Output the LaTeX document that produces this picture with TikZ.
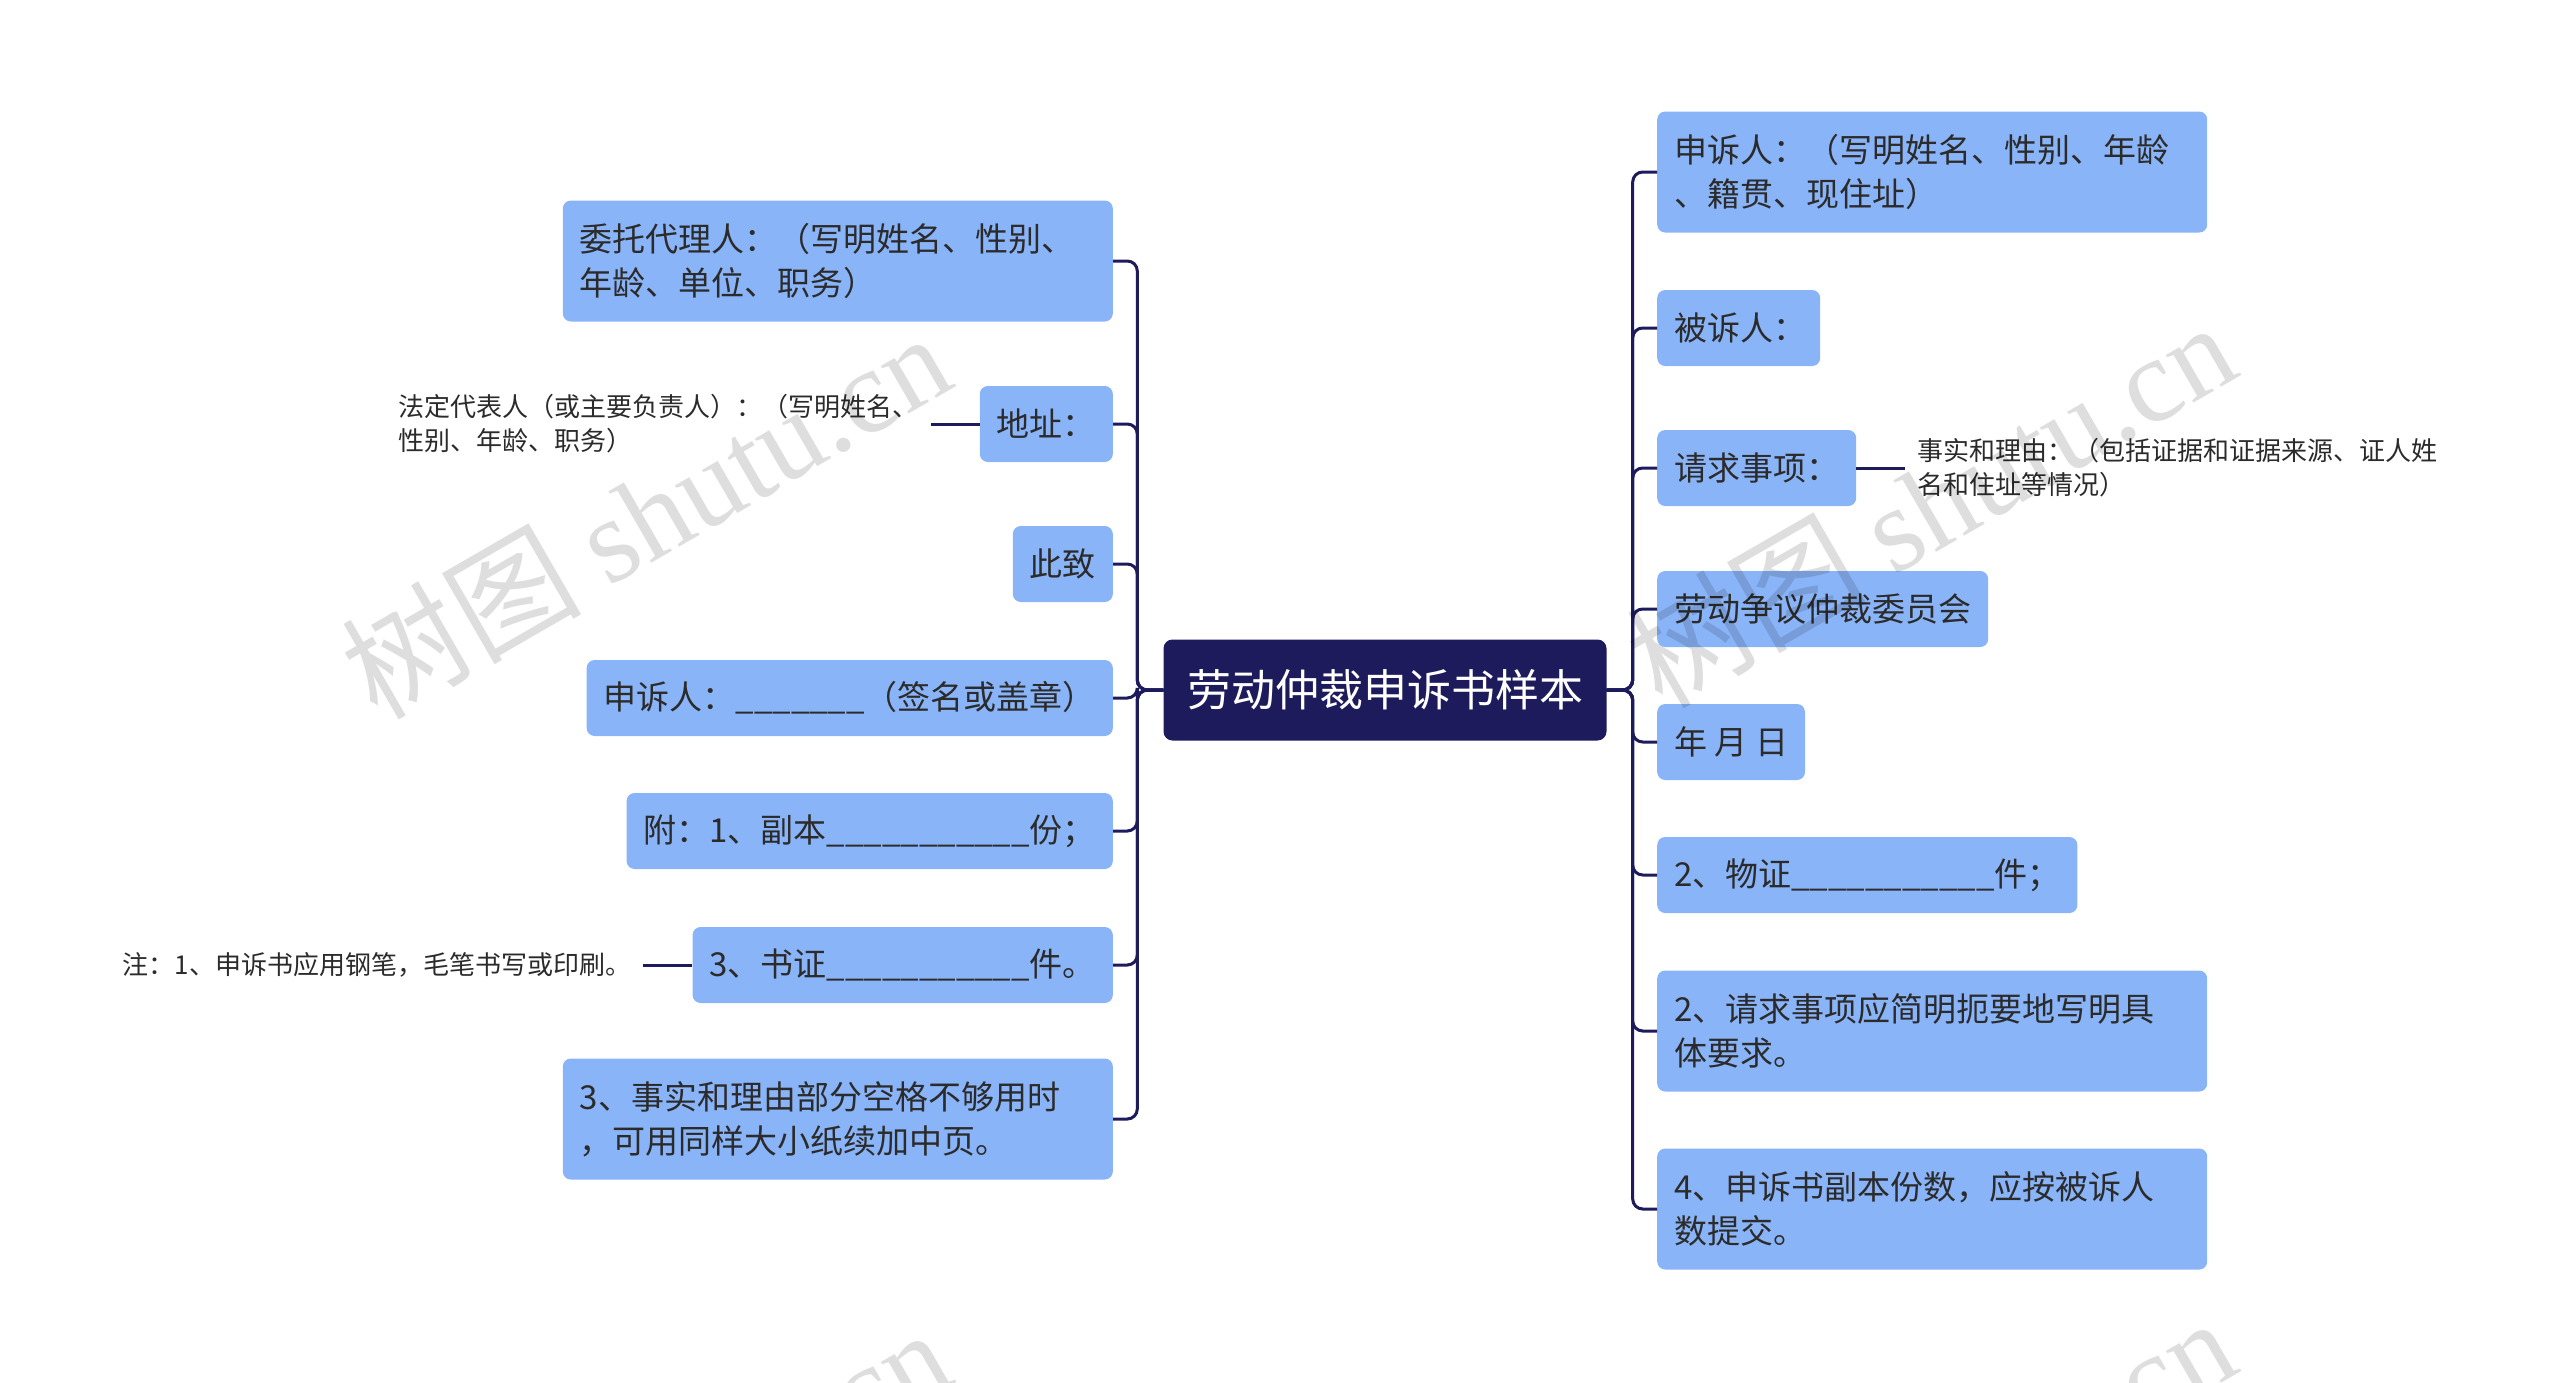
\documentclass[tikz,border=0pt]{standalone}
\usepackage{fontspec}
\setmainfont{Noto Sans CJK SC}
\newfontfamily\wmfont{Liberation Serif}
\usetikzlibrary{positioning}
\definecolor{navy}{HTML}{1D1B5C}
\definecolor{leaf}{HTML}{8AB4F8}
\definecolor{ink}{HTML}{2B2B2B}

\begin{document}
\begin{tikzpicture}[x=1pt, y=-1pt,
  root/.style={rectangle, fill=navy, text=white, rounded corners=9pt,
               font=\fontsize{44}{52}\selectfont, inner sep=0pt,
               minimum width=443pt, minimum height=101pt},
  topic/.style={rectangle, fill=leaf, text=ink, rounded corners=8pt,
                inner xsep=17pt, inner ysep=0pt, align=left,
                font=\fontsize{33}{44}\selectfont, minimum height=76pt},
  wide/.style={topic, text width=516pt, minimum height=121pt},
  note/.style={text=ink, font=\fontsize{26}{34}\selectfont, align=left,
               inner xsep=12pt, inner ysep=0pt},
  line/.style={draw=navy, line width=3pt, rounded corners=10pt},
  stamp/.style={rotate=30, text=black, opacity=0.13,
                font=\fontsize{120}{120}\selectfont},
  node distance=49pt
]
\useasboundingbox (0,0) rectangle (2560,1382);
% Nodes
\node[root] (c) at (1385,690) {劳动仲裁申诉书样本};
% left side
\node[wide, anchor=east] (l1) at (1113,261) {委托代理人：（写明姓名、性别、\\年龄、单位、职务）};
\node[topic, anchor=east] (l2) at (1113,424) {地址：};
\node[topic, anchor=east] (l3) at (1113,564) {此致};
\node[topic, anchor=east] (l4) at (1113,698) {申诉人：\_\_\_\_\_\_\_（签名或盖章）};
\node[topic, anchor=east] (l5) at (1113,831) {附：1、副本\_\_\_\_\_\_\_\_\_\_\_份；};
\node[topic, anchor=east] (l6) at (1113,965) {3、书证\_\_\_\_\_\_\_\_\_\_\_件。};
\node[wide, anchor=east] (l7) at (1113,1119) {3、事实和理由部分空格不够用时\\，可用同样大小纸续加中页。};
\node[note, left=of l2] (n1) {法定代表人（或主要负责人）：（写明姓名、\\性别、年龄、职务）};
\node[note, left=of l6] (n3) {注：1、申诉书应用钢笔，毛笔书写或印刷。};
% right side
\node[wide, anchor=west] (r1) at (1657,172) {申诉人：（写明姓名、性别、年龄\\、籍贯、现住址）};
\node[topic, anchor=west, text width=129pt] (r2) at (1657,328) {被诉人：};
\node[topic, anchor=west] (r3) at (1657,468) {请求事项：};
\node[topic, anchor=west] (r4) at (1657,609) {劳动争议仲裁委员会};
\node[topic, anchor=west] (r5) at (1657,742) {年 月 日};
\node[topic, anchor=west] (r6) at (1657,875) {2、物证\_\_\_\_\_\_\_\_\_\_\_件；};
\node[wide, anchor=west] (r7) at (1657,1031) {2、请求事项应简明扼要地写明具\\体要求。};
\node[wide, anchor=west] (r8) at (1657,1209) {4、申诉书副本份数，应按被诉人\\数提交。};
\node[note, right=of r3] (n2) {事实和理由：（包括证据和证据来源、证人姓\\名和住址等情况）};
% Edges
\foreach \t in {l1,l2,l3,l4,l5,l6,l7}
  \path[line] (c.west) -- ++(-26,0) |- (\t.east);
\foreach \t in {r1,r2,r3,r4,r5,r6,r7,r8}
  \path[line] (c.east) -- ++(26,0) |- (\t.west);
\path[line] (n1) -- (l2);
\path[line] (n3) -- (l6);
\path[line] (r3) -- (n2);
% watermark
\begin{scope}
\clip (0,0) rectangle (2560,1382);
\foreach \wx/\wy/\wn in {645/514/w1, 1930/503/w2, 645/1510/w3, 1930/1499/w4}
  \node[stamp] (\wn) at (\wx,\wy) {树图 {\wmfont shutu.cn}};
\end{scope}
\end{tikzpicture}
\end{document}
